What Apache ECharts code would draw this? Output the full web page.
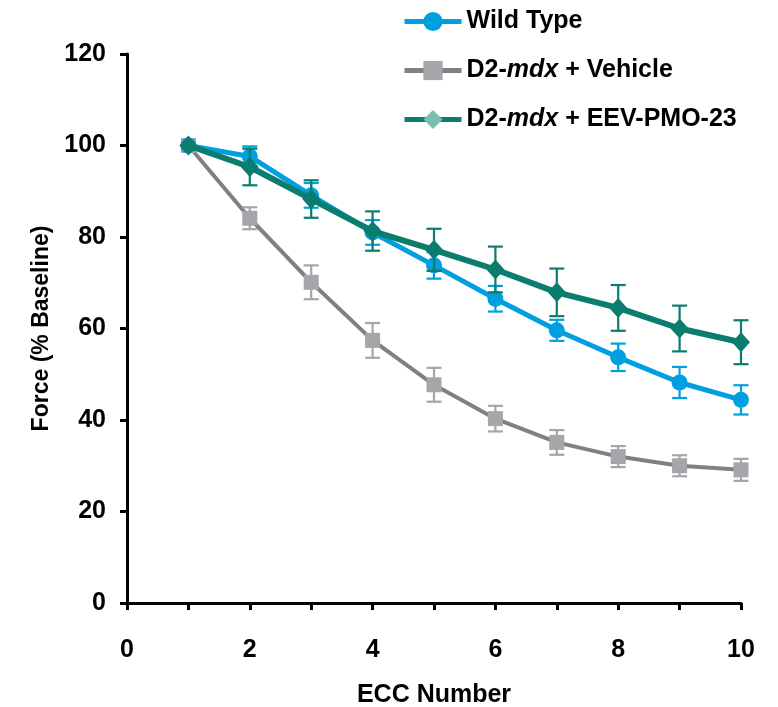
<!DOCTYPE html>
<html>
<head>
<meta charset="utf-8">
<script src="https://cdn.jsdelivr.net/npm/echarts@6/dist/echarts.min.js"></script>
<style>html,body{margin:0;padding:0;background:#fff}#c{width:778px;height:707px}</style>
</head>
<body>
<div id="c"></div>
<script>
const seriesNames = ['Wild Type', 'D2-mdx + Vehicle', 'D2-mdx + EEV-PMO-23'];
const eccNumbers = [1, 2, 3, 4, 5, 6, 7, 8, 9, 10];
const wildType = [100, 97.6, 89.1, 81.0, 73.8, 66.5, 59.6, 53.7, 48.2, 44.4];
const wildTypeErr = [0, 2.2, 2.7, 2.7, 2.9, 2.8, 2.3, 3.0, 3.4, 3.2];
const vehicle = [100, 84.1, 70.1, 57.4, 47.7, 40.3, 35.1, 32.0, 30.0, 29.1];
const vehicleErr = [0, 2.4, 3.7, 3.8, 3.7, 2.8, 2.7, 2.3, 2.3, 2.4];
const eev = [100, 95.3, 88.3, 81.3, 77.2, 72.9, 67.9, 64.5, 60.0, 57.0];
const eevErr = [0, 4.0, 4.1, 4.3, 4.6, 5.0, 5.2, 5.0, 5.0, 4.8];
const xTicks = [0, 2, 4, 6, 8, 10];
const yTicks = [0, 20, 40, 60, 80, 100, 120];

const FONT = 'Arial, "Liberation Sans", sans-serif';
const FS = 25;
const BLUE = '#009FDF', GRAY_LINE = '#808080', GRAY_MK = '#A5A5AA', TEAL = '#0B7D6E', TEAL_LIGHT = '#7ABFAE';

function pts(vals) { return eccNumbers.map((x, i) => [x, vals[i]]); }
function errData(vals, errs) { return eccNumbers.map((x, i) => [x, vals[i] - errs[i], vals[i] + errs[i]]); }
function errSeries(vals, errs, color, z) {
  return {
    type: 'custom', z: z, silent: true,
    data: errData(vals, errs),
    encode: { x: 0, y: [1, 2] },
    renderItem: function (params, api) {
      const x = api.value(0), lo = api.value(1), hi = api.value(2);
      if (hi - lo <= 0) return null;
      const pLo = api.coord([x, lo]), pHi = api.coord([x, hi]);
      const w = 7.5;
      const style = { stroke: color, lineWidth: 2.2, fill: null };
      return {
        type: 'group', children: [
          { type: 'line', shape: { x1: pLo[0], y1: pLo[1], x2: pHi[0], y2: pHi[1] }, style: style },
          { type: 'line', shape: { x1: pLo[0] - w, y1: pLo[1], x2: pLo[0] + w, y2: pLo[1] }, style: style },
          { type: 'line', shape: { x1: pHi[0] - w, y1: pHi[1], x2: pHi[0] + w, y2: pHi[1] }, style: style }
        ]
      };
    }
  };
}

const chart = echarts.init(document.getElementById('c'));
chart.setOption({
  animation: false,
  backgroundColor: '#fff',
  grid: { left: 127, right: 37, top: 54, bottom: 104, containLabel: false, outerBoundsMode: 'none' },
  legend: {
    orient: 'vertical', left: 397, top: 4,
    itemWidth: 57, itemHeight: 24, itemGap: 24,
    lineStyle: { width: 5 },
    data: [
      { name: seriesNames[0] },
      { name: seriesNames[1] },
      { name: seriesNames[2], itemStyle: { color: TEAL_LIGHT } }
    ],
    formatter: function (n) { return n.replace('mdx', '{i|mdx}'); },
    textStyle: {
      fontFamily: FONT, fontSize: FS, fontWeight: 'bold', color: '#000',
      rich: { i: { fontFamily: FONT, fontSize: FS, fontWeight: 'bold', fontStyle: 'italic', color: '#000' } }
    }
  },
  xAxis: {
    type: 'value', min: 0, max: 10, interval: 1,
    name: 'ECC Number', nameLocation: 'middle', nameGap: 80,
    nameTextStyle: { fontFamily: FONT, fontSize: FS, fontWeight: 'bold', color: '#000' },
    axisLine: { show: true, onZero: false, lineStyle: { color: '#000', width: 3 } },
    axisTick: { show: true, inside: false, length: 7, lineStyle: { color: '#000', width: 3 } },
    axisLabel: {
      margin: 35, fontFamily: FONT, fontSize: FS, fontWeight: 'bold', color: '#000',
      formatter: function (v) { return xTicks.indexOf(v) >= 0 ? String(v) : ''; }
    },
    splitLine: { show: false }
  },
  yAxis: {
    type: 'value', min: 0, max: 120, interval: 20,
    name: 'Force (% Baseline)', nameLocation: 'middle', nameGap: 66, nameRotate: 90,
    nameTextStyle: { fontFamily: FONT, fontSize: 23, fontWeight: 'bold', color: '#000' },
    axisLine: { show: true, lineStyle: { color: '#000', width: 3 } },
    axisTick: { show: true, inside: false, length: 7, lineStyle: { color: '#000', width: 3 } },
    axisLabel: {
      margin: 21, fontFamily: FONT, fontSize: FS, fontWeight: 'bold', color: '#000',
      formatter: function (v) { return yTicks.indexOf(v) >= 0 ? String(v) : ''; }
    },
    splitLine: { show: false }
  },
  series: [
    {
      name: seriesNames[1], type: 'line', z: 2, data: pts(vehicle),
      symbol: 'rect', symbolSize: 15,
      lineStyle: { color: GRAY_LINE, width: 4 },
      itemStyle: { color: GRAY_MK }
    },
    Object.assign(errSeries(vehicle, vehicleErr, GRAY_MK, 3), { name: 'vehErr' }),
    {
      name: seriesNames[0], type: 'line', z: 4, data: pts(wildType),
      symbol: 'circle', symbolSize: 16,
      lineStyle: { color: BLUE, width: 5 },
      itemStyle: { color: BLUE }
    },
    Object.assign(errSeries(wildType, wildTypeErr, BLUE, 5), { name: 'wtErr' }),
    {
      name: seriesNames[2], type: 'line', z: 6, data: pts(eev),
      symbol: 'diamond', symbolSize: [18, 20],
      lineStyle: { color: TEAL, width: 6 },
      itemStyle: { color: TEAL }
    },
    Object.assign(errSeries(eev, eevErr, TEAL, 7), { name: 'eevErr' })
  ]
});
</script>
</body>
</html>
